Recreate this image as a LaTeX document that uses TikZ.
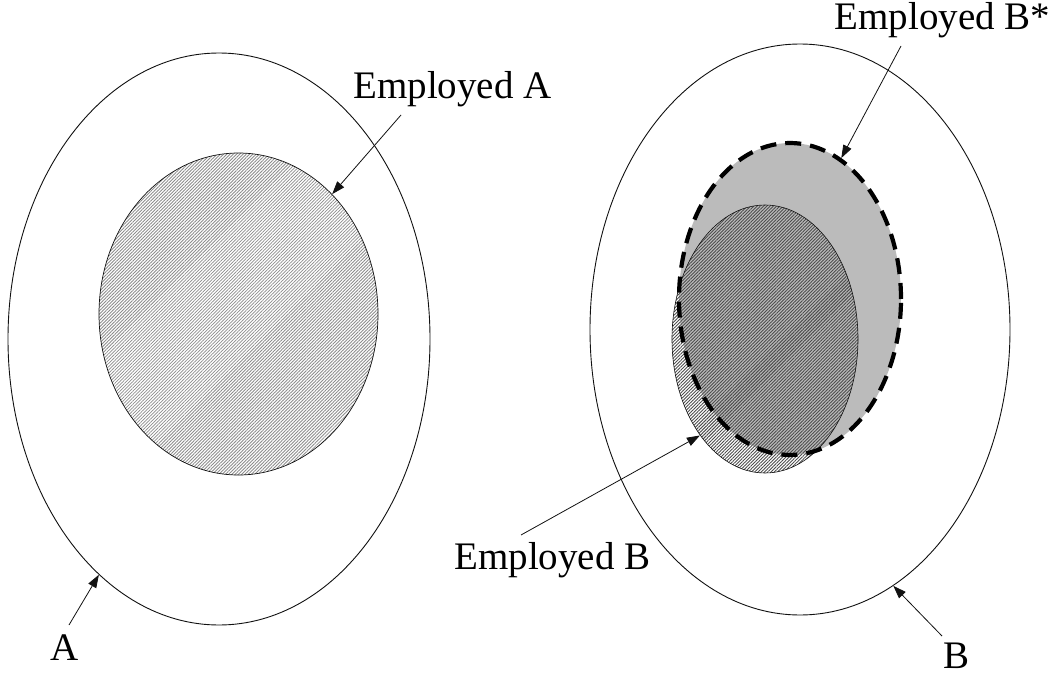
\documentclass[tikz,border=0pt]{standalone}
\usepackage{fontspec}
\setmainfont{Liberation Serif}
\usepackage{tikz}
\usetikzlibrary{arrows.meta,shapes.geometric,patterns.meta}
\definecolor{ink}{HTML}{111111}
\definecolor{shadeg}{HTML}{BBBBBB}
\tikzset{
  outer/.style={ellipse,draw=ink,line width=0.9pt,inner sep=0pt},
  hatchA/.style={ellipse,draw=ink,line width=0.7pt,inner sep=0pt,
    pattern={Lines[angle=45,distance=2.3pt,line width=0.8pt]},pattern color=black!45},
  hatchB/.style={ellipse,draw=ink,line width=0.6pt,inner sep=0pt,
    pattern={Lines[angle=45,distance=2.3pt,line width=0.9pt]},pattern color=black!70},
  shadeB/.style={ellipse,fill=shadeg,inner sep=0pt},
  dashB/.style={ellipse,draw=black,line width=4.2pt,dash pattern=on 16pt off 9pt,inner sep=0pt},
  arr/.style={-{Triangle[length=13pt,width=9pt]},line width=0.8pt,color=ink},
  lbl/.style={font=\fontsize{39}{44}\selectfont,inner sep=0pt,anchor=base},
}
\begin{document}
\begin{tikzpicture}[x=1pt,y=-1pt]
\useasboundingbox (0,0) rectangle (1058,677);
% left: population A
\node[outer,minimum width=422pt,minimum height=572pt] (bigA) at (219,339) {};
\node[hatchA,minimum width=279pt,minimum height=322pt] (empA) at (238.5,314) {};
% right: population B
\node[outer,minimum width=420pt,minimum height=571pt] (bigB) at (800,329.5) {};
\node[shadeB,minimum width=222pt,minimum height=312pt] (empBsfill) at (790,299) {};
\node[hatchB,minimum width=186pt,minimum height=268pt] (empB) at (765,339) {};
\node[dashB,minimum width=222pt,minimum height=312pt] (empBs) at (790,299) {};
% labels
\node[lbl] (labEA) at (452.5,99) {Employed A};
\node[lbl] (labEBs) at (942.5,30) {Employed B*};
\node[lbl] (labEB) at (552.5,569) {Employed B};
\node[lbl] (labA) at (65,660) {A};
\node[lbl] (labB) at (956,668) {B};
% arrow tails
\coordinate (tEA) at (401,115);
\coordinate (tEBs) at (901,46);
\coordinate (tEB) at (521,535);
\coordinate (tA) at (69,625);
\coordinate (tB) at (942,636);
\draw[arr] (tEA) -- (empA.52);
\draw[arr] (tEBs) -- (empBs.70);
\draw[arr] (tEB) -- (empB.236);
\draw[arr] (tA) -- (bigA.243);
\draw[arr] (tB) -- (bigB.290);
\end{tikzpicture}
\end{document}
